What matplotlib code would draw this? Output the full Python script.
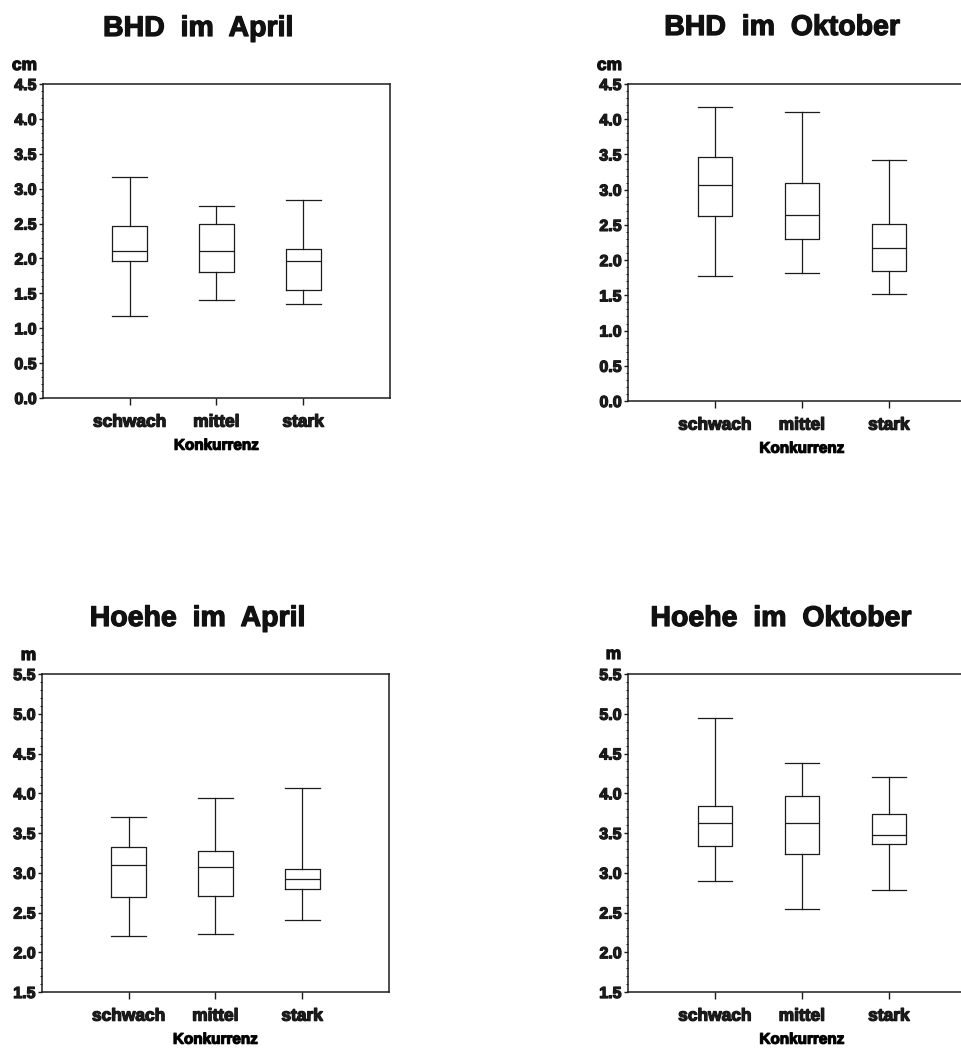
import matplotlib.pyplot as plt
import matplotlib.patheffects as pe
from matplotlib.ticker import MultipleLocator, FormatStrFormatter

plt.rcParams['font.family'] = ['Liberation Sans', 'DejaVu Sans']
plt.rcParams['font.weight'] = 'bold'

# Werte aus der Abbildung abgelesen
# je Gruppe: unteres Whiskerende, Q1, Median, Q3, oberes Whiskerende
kategorien = ['schwach', 'mittel', 'stark']
bhd_april = [[1.18, 1.97, 2.10, 2.47, 3.17],
             [1.41, 1.80, 2.10, 2.49, 2.75],
             [1.34, 1.55, 1.96, 2.14, 2.84]]
bhd_oktober = [[1.77, 2.63, 3.07, 3.47, 4.17],
               [1.81, 2.30, 2.64, 3.10, 4.10],
               [1.52, 1.85, 2.17, 2.51, 3.42]]
hoehe_april = [[2.21, 2.70, 3.10, 3.33, 3.70],
               [2.23, 2.71, 3.07, 3.27, 3.94],
               [2.41, 2.80, 2.92, 3.05, 4.06]]
hoehe_oktober = [[2.90, 3.34, 3.62, 3.84, 4.95],
                 [2.55, 3.24, 3.62, 3.97, 4.38],
                 [2.78, 3.36, 3.47, 3.74, 4.20]]

W, H = 962, 1050
linie = '#1c1c1c'
# etwas "Druckerschwärze" um die Schrift, damit sie so fett wirkt wie im Scan
fett = [pe.withStroke(linewidth=0.9, foreground='#111')]

fig = plt.figure(figsize=(W / 100, H / 100), dpi=100)


def px(x0, y0, x1, y1):
    # Pixelrechteck -> Figurkoordinaten
    return [x0 / W, 1 - y1 / H, (x1 - x0) / W, (y1 - y0) / H]


def box_stats(werte):
    stats = []
    for name, (lo, q1, med, q3, hi) in zip(kategorien, werte):
        stats.append({'label': name, 'whislo': lo, 'q1': q1, 'med': med,
                      'q3': q3, 'whishi': hi, 'fliers': []})
    return stats


def panel(rect, werte, ylim, titel, titel_xy, einheit, einheit_xy):
    ax = fig.add_axes(px(*rect))
    lp = dict(color=linie, linewidth=0.9)
    ax.bxp(box_stats(werte), positions=[1, 2, 3], widths=0.4, capwidths=0.4,
           showfliers=False, boxprops=lp, whiskerprops=lp, capprops=lp,
           medianprops=lp)
    ax.set_xlim(0, 4)
    ax.set_ylim(*ylim)
    ax.yaxis.set_major_locator(MultipleLocator(0.5))
    ax.yaxis.set_minor_locator(MultipleLocator(0.1))
    ax.yaxis.set_major_formatter(FormatStrFormatter('%.1f'))
    for s in ax.spines.values():
        s.set_linewidth(1.1)
        s.set_color(linie)
    ax.tick_params(axis='y', which='major', direction='out', length=3,
                   width=1, labelsize=11.5, pad=1.5, colors=linie)
    ax.tick_params(axis='y', which='minor', direction='out', length=1.5,
                   width=0.7, colors=linie)
    ax.tick_params(axis='x', which='major', direction='out', length=5,
                   width=1, labelsize=12.5, pad=7, colors=linie)
    for lab in ax.get_xticklabels() + ax.get_yticklabels():
        lab.set_path_effects(fett)
    ax.set_xlabel('Konkurrenz', fontsize=11, labelpad=6.5, fontweight='bold',
                  path_effects=fett)
    fig.text(titel_xy[0] / W, 1 - titel_xy[1] / H, titel, fontsize=20.5,
             ha='center', va='baseline', color='#111', path_effects=fett)
    fig.text(einheit_xy[0] / W, 1 - einheit_xy[1] / H, einheit, fontsize=12.5,
             ha='center', va='baseline', color='#111', path_effects=fett)
    return ax


panel((43, 84, 390, 398), bhd_april, (0, 4.5), 'BHD  im  April', (198, 36),
      'cm', (24.5, 70))
panel((628, 84, 976, 401), bhd_oktober, (0, 4.5), 'BHD  im  Oktober', (782, 35),
      'cm', (609.5, 70))
panel((42, 674, 389, 992), hoehe_april, (1.5, 5.5), 'Hoehe  im  April',
      (197.5, 626), 'm', (28.5, 660))
panel((628, 674, 976, 992), hoehe_oktober, (1.5, 5.5), 'Hoehe  im  Oktober',
      (781, 626), 'm', (613.5, 659))

fig.savefig('out.png', dpi=100)
